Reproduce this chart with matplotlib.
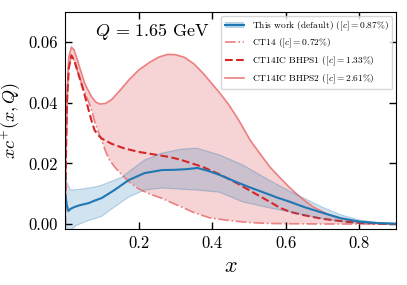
import numpy as np
import matplotlib
matplotlib.use("Agg")
import matplotlib.pyplot as plt
from matplotlib.lines import Line2D
from matplotlib.patches import Patch

plt.rcParams['font.family'] = 'serif'
plt.rcParams['font.serif'] = ['cmr10', 'DejaVu Serif']
plt.rcParams['mathtext.fontset'] = 'cm'
plt.rcParams['axes.formatter.use_mathtext'] = True

# this work: central value and band
x_cen = [0.001, 0.005, 0.009, 0.015, 0.025, 0.04, 0.064, 0.08, 0.1, 0.134, 0.173, 0.216,
         0.263, 0.3, 0.33, 0.36, 0.39, 0.42, 0.467, 0.5, 0.538, 0.575, 0.612, 0.65, 0.7,
         0.75, 0.8, 0.85, 0.9]
y_cen = [0.0095, 0.006, 0.0043, 0.005, 0.0056, 0.0062, 0.0069, 0.0077, 0.0086, 0.0112,
         0.0145, 0.0168, 0.0178, 0.0179, 0.0181, 0.0185, 0.0175, 0.0162, 0.0138, 0.0122,
         0.0105, 0.0088, 0.0073, 0.0056, 0.0037, 0.0019, 0.0008, 0.0003, 0.0001]
x_up = [0.001, 0.005, 0.015, 0.03, 0.06, 0.08, 0.1, 0.12, 0.155, 0.173, 0.216, 0.263,
        0.317, 0.359, 0.42, 0.483, 0.55, 0.6, 0.65, 0.7, 0.75, 0.8, 0.85, 0.9]
y_up = [0.017, 0.0135, 0.0112, 0.0113, 0.0118, 0.0122, 0.0128, 0.0138, 0.0155, 0.0172,
        0.0211, 0.0234, 0.0247, 0.025, 0.0228, 0.0195, 0.0148, 0.0115, 0.0085, 0.0055,
        0.003, 0.0013, 0.0005, 0.0002]
x_lo = [0.001, 0.005, 0.015, 0.03, 0.06, 0.099, 0.134, 0.173, 0.216, 0.263, 0.317, 0.359,
        0.42, 0.483, 0.557, 0.612, 0.65, 0.7, 0.75, 0.8, 0.85, 0.9]
y_lo = [0.002, -0.0015, -0.002, -0.0005, 0.001, 0.0025, 0.0056, 0.0089, 0.0112, 0.0119,
        0.0115, 0.0112, 0.0105, 0.0073, 0.0053, 0.004, 0.003, 0.0018, 0.0008, 0.0003,
        0.0001, 0.0]

# CT14
x_ct14 = [0.0, 0.002, 0.005, 0.01, 0.017, 0.025, 0.035, 0.05, 0.065, 0.072, 0.08, 0.09,
          0.1, 0.11, 0.121, 0.135, 0.15, 0.173, 0.2, 0.23, 0.263, 0.29, 0.317, 0.35,
          0.394, 0.45, 0.5, 0.55, 0.6, 0.7, 0.8, 0.9]
y_ct14 = [0.0, 0.02, 0.04, 0.0515, 0.0555, 0.054, 0.05, 0.0445, 0.04, 0.0376, 0.034,
          0.0305, 0.0275, 0.024, 0.0211, 0.0188, 0.0168, 0.014, 0.0116, 0.0099, 0.0085,
          0.007, 0.0056, 0.0038, 0.002, 0.0011, 0.0005, 0.0002, 0.0001, 0.0, 0.0, 0.0]

# CT14IC BHPS1
x_bhps1 = [0.0, 0.002, 0.005, 0.01, 0.017, 0.025, 0.035, 0.05, 0.064, 0.072, 0.08, 0.09,
           0.1, 0.126, 0.16, 0.2, 0.25, 0.285, 0.317, 0.35, 0.375, 0.42, 0.467, 0.5,
           0.557, 0.585, 0.612, 0.65, 0.675, 0.7, 0.767, 0.8, 0.85, 0.9]
y_bhps1 = [0.0, 0.02, 0.04, 0.0515, 0.0557, 0.054, 0.05, 0.044, 0.0376, 0.034, 0.031,
           0.0293, 0.0282, 0.0265, 0.025, 0.0238, 0.0228, 0.0221, 0.0211, 0.0198, 0.0188,
           0.0164, 0.0135, 0.0112, 0.0073, 0.0053, 0.004, 0.0029, 0.0023, 0.0017,
           0.0007, 0.0004, 0.0001, 0.0]

# CT14IC BHPS2
x_bhps2 = [0.0, 0.002, 0.005, 0.01, 0.017, 0.024, 0.031, 0.04, 0.053, 0.062, 0.072,
           0.083, 0.094, 0.11, 0.126, 0.15, 0.173, 0.2, 0.23, 0.255, 0.279, 0.3, 0.325,
           0.35, 0.375, 0.4, 0.421, 0.445, 0.467, 0.485, 0.503, 0.53, 0.557, 0.585,
           0.61, 0.639, 0.675, 0.72, 0.767, 0.8, 0.85, 0.9]
y_bhps2 = [0.0, 0.022, 0.042, 0.055, 0.0584, 0.0575, 0.0551, 0.0515, 0.0465, 0.0443,
           0.042, 0.0403, 0.0396, 0.0398, 0.041, 0.0442, 0.0475, 0.0508, 0.0534, 0.0551,
           0.056, 0.0559, 0.055, 0.0529, 0.0498, 0.0462, 0.0432, 0.0394, 0.0353, 0.0316,
           0.0277, 0.0232, 0.0188, 0.0152, 0.0121, 0.0089, 0.0056, 0.0029, 0.0013,
           0.0007, 0.0002, 0.0]

labels = [r'This work (default) ($[c]=0.87\%$)',
          r'CT14 ($[c]=0.72\%$)',
          r'CT14IC BHPS1 ($[c]=1.33\%$)',
          r'CT14IC BHPS2 ($[c]=2.61\%$)']

blue = '#1f77b4'
red = '#d62728'
lightred = '#ec7f80'

fig = plt.figure(figsize=(4.07, 2.85), dpi=100)
ax = fig.add_axes([0.160, 0.196, 0.813, 0.762])

# red band between CT14 and BHPS2
ax.fill(np.concatenate([x_ct14, x_bhps2[::-1]]), np.concatenate([y_ct14, y_bhps2[::-1]]),
        color=red, alpha=0.2, lw=0)
ax.plot(x_ct14, y_ct14, color=lightred, ls='-.', lw=1.2)
ax.plot(x_bhps2, y_bhps2, color=lightred, ls='-', lw=1.2)
ax.plot(x_bhps1, y_bhps1, color=red, ls='--', lw=1.5)

# this work
ax.fill(np.concatenate([x_up, x_lo[::-1]]), np.concatenate([y_up, y_lo[::-1]]),
        facecolor=blue, alpha=0.2, lw=0)
ax.plot(x_up, y_up, color=blue, alpha=0.3, lw=0.8)
ax.plot(x_lo, y_lo, color=blue, alpha=0.3, lw=0.8)
ax.plot(x_cen, y_cen, color=blue, lw=1.5)

ax.set_xlim(0, 0.9)
ax.set_ylim(-0.0017, 0.07)
ax.set_xticks([0.2, 0.4, 0.6, 0.8])
ax.set_yticks([0.0, 0.02, 0.04, 0.06])
ax.yaxis.set_major_formatter(matplotlib.ticker.StrMethodFormatter('{x:.2f}'))
ax.xaxis.set_major_formatter(matplotlib.ticker.StrMethodFormatter('{x:.1f}'))
ax.tick_params(direction='in', top=True, right=True, length=5, width=1, labelsize=12, pad=5)

ax.set_xlabel(r'$x$', fontsize=16)
ax.set_ylabel(r'$xc^{+}(x,Q)$', fontsize=13)
ax.text(0.09, 0.89, r'$Q\, =\, 1.65~\mathrm{GeV}$', transform=ax.transAxes, fontsize=13)

handles = [(Patch(facecolor=blue, alpha=0.3, lw=0), Line2D([], [], color=blue, lw=1.5)),
           Line2D([], [], color=lightred, ls='-.', lw=1.2),
           Line2D([], [], color=red, ls='--', lw=1.5),
           Line2D([], [], color=lightred, ls='-', lw=1.2)]
ax.legend(handles, labels, loc='upper right', fontsize=6.8, handlelength=2,
          labelspacing=0.45, borderaxespad=0.4)

fig.savefig('out.png', dpi=100)
